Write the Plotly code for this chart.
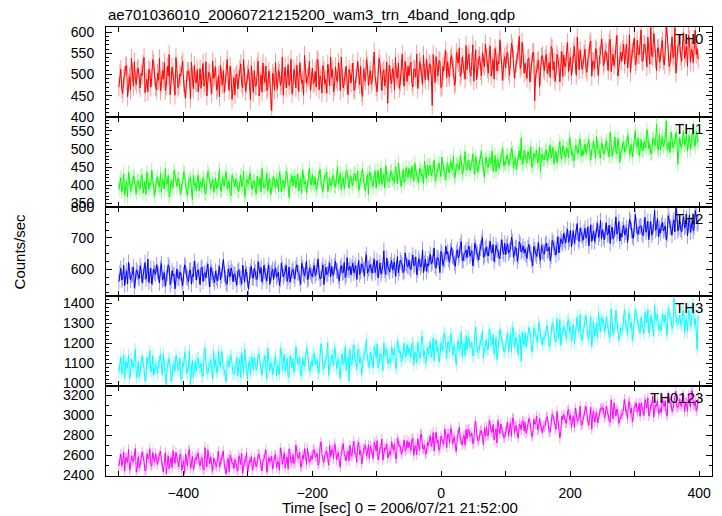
import numpy as np
import plotly.graph_objects as go

TITLE = "ae701036010_20060721215200_wam3_trn_4band_long.qdp"
X_LABEL = "Time [sec] 0 = 2006/07/21 21:52:00"
Y_LABEL = "Counts/sec"
BAND_NAMES = ["TH0", "TH1", "TH2", "TH3", "TH0123"]
BAND_COLORS = ["#ff0000", "#00ff00", "#0000ff", "#00ffff", "#ff00ff"]
ERROR_COLORS = ["rgba(255,0,0,0.4)", "rgba(0,255,0,0.4)", "rgba(0,0,255,0.4)",
                "rgba(0,255,255,0.4)", "rgba(255,0,255,0.4)"]

# time grid of the light curve (seconds from 2006/07/21 21:52:00);
# the *_A lists hold the bins at TIME_START + k*TIME_STEP, the *_B lists the
# bins half a step later.
TIME_START = -500
TIME_STEP = 3

# typical 1-sigma count-rate error of each band (counts/sec)
BAND_ERRORS = [22, 20, 25, 33, 52]

TH0_A = [
    470, 512, 455, 498, 521, 480, 463, 505, 530, 476,
    515, 468, 497, 540, 482, 459, 508, 493, 526, 471,
    503, 538, 477, 489, 462, 519, 547, 485, 498, 451,
    512, 474, 496, 531, 466, 488, 507, 443, 495, 522,
    480, 459, 513, 497, 472, 530, 486, 502, 455, 491,
    518, 470, 447, 493, 509, 481, 536, 462, 498, 475,
    452, 501, 489, 525, 468, 494, 478, 512, 440, 486,
    509, 473, 531, 484, 458, 497, 520, 469, 491, 415,
    495, 528, 466, 503, 482, 451, 517, 490, 474, 536,
    471, 499, 522, 460, 508, 487, 545, 479, 496, 463,
    515, 482, 470, 531, 497, 456, 509, 488, 524, 473,
    494, 459, 518, 483, 506, 541, 468, 497, 476, 512,
    480, 527, 465, 502, 489, 519, 448, 495, 535, 474,
    509, 486, 553, 471, 498, 525, 462, 511, 490, 432,
    522, 478, 505, 540, 491, 467, 514, 496, 531, 483,
    497, 529, 470, 512, 548, 488, 519, 476, 503, 536,
    486, 523, 427, 515, 542, 497, 531, 472, 508, 556,
    530, 494, 545, 512, 481, 538, 563, 503, 524, 489,
    511, 548, 496, 570, 527, 488, 535, 509, 552, 518,
    541, 503, 566, 520, 489, 544, 531, 582, 507, 529,
    515, 553, 498, 574, 536, 512, 547, 590, 521, 548,
    526, 491, 539, 505, 552, 438, 513, 534, 498, 545,
    508, 547, 519, 493, 561, 530, 501, 538, 482, 554,
    546, 518, 575, 530, 497, 552, 526, 588, 511, 539,
    522, 560, 505, 543, 579, 531, 514, 556, 498, 547,
    564, 529, 551, 509, 583, 540, 521, 567, 496, 545,
    531, 572, 548, 515, 594, 537, 560, 522, 581, 546,
    605, 532, 569, 518, 556, 618, 541, 575, 509, 563,
    537, 580, 522, 612, 551, 528, 589, 545, 503, 566,
    574, 531, 598, 550, 519, 583, 560, 527, 604, 561,
]
TH0_B = [
    502, 466, 491, 519, 447, 495, 538, 472, 486, 511,
    478, 503, 524, 457, 489, 512, 470, 535, 494, 463,
    486, 461, 509, 528, 473, 496, 452, 517, 482, 540,
    469, 501, 523, 480, 444, 507, 491, 529, 466, 484,
    511, 494, 467, 526, 481, 449, 505, 473, 532, 497,
    463, 497, 522, 476, 458, 503, 487, 519, 441, 492,
    497, 466, 512, 478, 535, 460, 501, 482, 521, 457,
    472, 518, 449, 499, 527, 481, 462, 508, 437, 503,
    463, 481, 510, 474, 541, 496, 468, 523, 487, 455,
    512, 468, 486, 527, 479, 451, 503, 492, 531, 484,
    478, 507, 536, 464, 489, 521, 477, 456, 503, 541,
    511, 472, 489, 528, 461, 494, 483, 519, 452, 501,
    505, 462, 491, 531, 476, 458, 513, 484, 520, 497,
    477, 522, 494, 459, 538, 485, 506, 473, 529, 501,
    489, 514, 463, 498, 527, 481, 548, 472, 506, 519,
    521, 482, 513, 494, 467, 530, 502, 545, 487, 511,
    525, 498, 547, 481, 506, 533, 469, 519, 538, 492,
    502, 536, 519, 474, 552, 527, 495, 541, 510, 568,
    539, 505, 531, 484, 558, 516, 543, 497, 526, 572,
    514, 549, 496, 535, 561, 508, 525, 553, 486, 542,
    547, 509, 536, 563, 491, 528, 557, 514, 576, 503,
    508, 537, 482, 524, 551, 497, 529, 470, 541, 515,
    537, 502, 528, 566, 511, 484, 547, 519, 533, 495,
    519, 553, 507, 541, 524, 566, 498, 535, 557, 512,
    548, 513, 537, 572, 496, 529, 561, 518, 543, 583,
    521, 556, 532, 574, 507, 548, 535, 592, 518, 553,
    559, 524, 571, 539, 505, 553, 586, 530, 547, 568,
    531, 572, 549, 588, 524, 545, 597, 537, 561, 529,
    566, 533, 557, 594, 519, 551, 540, 611, 530, 572,
    543, 579, 538, 566, 592, 529, 555, 583, 547, 536,
]

TH1_A = [
    388, 421, 395, 372, 410, 436, 384, 401, 419, 377,
    412, 390, 428, 399, 374, 417, 406, 441, 385, 398,
    423, 395, 380, 411, 446, 402, 368, 414, 393, 429,
    397, 418, 375, 405, 432, 388, 409, 421, 360, 401,
    386, 427, 410, 393, 415, 377, 438, 399, 405, 381,
    420, 398, 443, 384, 407, 425, 390, 412, 371, 416,
    395, 412, 382, 428, 401, 369, 417, 404, 433, 389,
    411, 376, 399, 420, 446, 392, 405, 383, 418, 397,
    424, 393, 409, 437, 381, 414, 402, 429, 366, 411,
    398, 426, 412, 385, 418, 441, 403, 379, 420, 407,
    430, 401, 388, 416, 444, 395, 411, 424, 382, 419,
    403, 427, 396, 452, 410, 388, 421, 407, 437, 392,
    425, 399, 433, 412, 386, 420, 446, 405, 418, 374,
    434, 409, 426, 392, 441, 417, 403, 430, 455, 413,
    411, 438, 420, 451, 404, 429, 397, 443, 418, 432,
    447, 419, 436, 462, 425, 408, 441, 430, 466, 417,
    428, 455, 437, 469, 421, 446, 432, 478, 443, 415,
    461, 436, 452, 480, 427, 457, 444, 471, 438, 493,
    442, 468, 451, 487, 430, 463, 449, 476, 458, 421,
    478, 449, 466, 495, 455, 437, 472, 460, 489, 452,
    458, 483, 469, 502, 447, 477, 464, 495, 530, 461,
    489, 462, 481, 506, 455, 476, 497, 469, 438, 485,
    470, 498, 476, 512, 488, 459, 494, 479, 521, 472,
    505, 476, 499, 531, 485, 468, 510, 492, 519, 481,
    483, 514, 497, 526, 470, 502, 488, 535, 499, 475,
    511, 486, 523, 495, 547, 480, 506, 492, 529, 463,
    491, 520, 505, 538, 484, 512, 498, 551, 507, 482,
    527, 495, 514, 553, 501, 486, 530, 509, 569, 497,
    499, 534, 515, 578, 506, 490, 528, 512, 545, 458,
    532, 503, 549, 518, 494, 537, 521, 561, 508, 526,
]
TH1_B = [
    409, 382, 431, 397, 368, 415, 402, 426, 391, 413,
    394, 423, 378, 410, 436, 389, 401, 419, 370, 407,
    401, 433, 416, 389, 404, 427, 381, 398, 441, 412,
    419, 390, 403, 437, 396, 372, 414, 389, 428, 406,
    412, 384, 399, 421, 376, 408, 430, 391, 417, 396,
    391, 414, 386, 421, 398, 437, 402, 380, 428, 399,
    418, 386, 407, 396, 440, 377, 409, 425, 392, 413,
    389, 425, 402, 381, 413, 397, 434, 411, 374, 406,
    402, 417, 383, 421, 405, 391, 438, 397, 414, 427,
    419, 393, 431, 404, 378, 422, 410, 396, 446, 401,
    405, 423, 397, 431, 409, 382, 427, 436, 403, 398,
    422, 398, 419, 405, 434, 416, 390, 441, 411, 426,
    406, 431, 412, 440, 398, 424, 409, 385, 429, 437,
    412, 397, 439, 421, 405, 448, 416, 392, 427, 411,
    437, 415, 406, 431, 462, 414, 426, 408, 449, 421,
    424, 452, 411, 438, 420, 447, 426, 405, 441, 456,
    453, 426, 448, 412, 439, 461, 424, 452, 431, 447,
    437, 466, 443, 421, 458, 449, 481, 430, 462, 445,
    469, 440, 463, 452, 478, 436, 461, 494, 447, 470,
    451, 476, 459, 439, 482, 468, 446, 473, 501, 464,
    481, 455, 476, 491, 462, 443, 487, 472, 458, 496,
    468, 493, 472, 449, 488, 479, 461, 505, 483, 470,
    493, 467, 489, 475, 504, 486, 463, 497, 481, 509,
    481, 502, 476, 515, 493, 469, 506, 487, 528, 495,
    507, 488, 513, 482, 499, 522, 476, 504, 493, 517,
    489, 514, 501, 478, 519, 496, 533, 487, 508, 492,
    517, 492, 509, 527, 496, 478, 521, 505, 531, 499,
    498, 521, 503, 537, 512, 490, 526, 519, 502, 541,
    525, 506, 531, 497, 519, 547, 503, 522, 534, 510,
    507, 529, 512, 540, 521, 499, 533, 515, 550, 518,
]

TH2_A = [
    560, 603, 571, 548, 595, 622, 566, 584, 541, 598,
    575, 611, 557, 590, 568, 632, 579, 552, 601, 583,
    592, 556, 618, 570, 545, 587, 606, 563, 579, 537,
    601, 569, 588, 547, 614, 576, 559, 597, 583, 626,
    565, 598, 551, 607, 584, 572, 616, 543, 590, 568,
    594, 562, 609, 579, 631, 571, 552, 588, 604, 560,
    583, 549, 598, 570, 612, 558, 585, 536, 593, 574,
    603, 571, 624, 586, 559, 612, 578, 597, 551, 589,
    567, 604, 583, 548, 619, 575, 593, 561, 607, 580,
    599, 568, 614, 587, 552, 603, 579, 626, 570, 591,
    576, 612, 588, 633, 569, 597, 551, 606, 585, 620,
    608, 580, 625, 594, 562, 611, 589, 573, 637, 598,
    582, 619, 601, 567, 628, 593, 611, 578, 646, 600,
    615, 587, 632, 604, 572, 620, 596, 659, 583, 609,
    592, 628, 610, 577, 640, 603, 621, 589, 652, 611,
    628, 598, 645, 615, 582, 634, 607, 662, 619, 593,
    611, 647, 622, 668, 603, 636, 589, 651, 628, 673,
    656, 622, 671, 638, 609, 662, 645, 688, 627, 652,
    637, 674, 648, 611, 683, 656, 629, 667, 701, 643,
    671, 642, 689, 653, 624, 677, 660, 633, 694, 648,
    646, 681, 659, 702, 638, 670, 625, 688, 655, 674,
    665, 634, 679, 648, 611, 662, 641, 685, 628, 657,
    648, 683, 659, 627, 692, 670, 645, 704, 678, 688,
    715, 684, 728, 697, 671, 722, 703, 746, 689, 711,
    692, 731, 708, 674, 742, 715, 688, 727, 701, 756,
    726, 694, 748, 713, 682, 735, 705, 767, 721, 690,
    702, 741, 718, 685, 759, 724, 698, 776, 713, 734,
    738, 707, 766, 729, 694, 752, 719, 788, 731, 703,
    715, 749, 727, 694, 771, 736, 709, 758, 795, 722,
    752, 719, 768, 738, 706, 774, 741, 722, 787, 745,
]
TH2_B = [
    588, 565, 612, 577, 553, 594, 581, 607, 562, 590,
    569, 596, 578, 621, 585, 558, 603, 574, 589, 614,
    583, 603, 566, 589, 573, 614, 551, 595, 584, 567,
    574, 591, 562, 583, 608, 571, 596, 552, 577, 601,
    592, 576, 603, 561, 589, 598, 573, 606, 580, 557,
    572, 589, 566, 598, 583, 556, 601, 575, 592, 585,
    569, 593, 577, 552, 588, 601, 566, 582, 609, 571,
    591, 567, 598, 605, 575, 591, 562, 613, 582, 600,
    596, 574, 590, 567, 601, 584, 612, 575, 559, 594,
    578, 603, 590, 571, 619, 584, 597, 566, 605, 582,
    597, 579, 606, 588, 571, 614, 592, 583, 601, 575,
    585, 611, 596, 577, 603, 589, 622, 581, 597, 610,
    604, 588, 612, 595, 583, 617, 598, 631, 587, 605,
    593, 612, 589, 627, 605, 584, 611, 597, 635, 602,
    614, 597, 623, 601, 588, 629, 613, 595, 619, 608,
    605, 626, 610, 639, 598, 621, 614, 589, 632, 617,
    633, 616, 641, 609, 637, 625, 657, 612, 631, 648,
    631, 658, 642, 619, 653, 636, 675, 628, 649, 661,
    662, 641, 659, 633, 670, 647, 655, 686, 638, 664,
    648, 667, 652, 679, 644, 662, 639, 671, 657, 683,
    672, 651, 664, 688, 649, 667, 642, 679, 661, 653,
    646, 668, 655, 631, 673, 649, 662, 640, 676, 654,
    679, 658, 671, 642, 684, 663, 676, 652, 697, 681,
    692, 709, 686, 724, 701, 683, 718, 695, 731, 706,
    718, 699, 736, 711, 689, 722, 704, 747, 713, 696,
    703, 723, 709, 741, 718, 697, 729, 712, 752, 715,
    727, 709, 732, 718, 751, 706, 729, 741, 712, 737,
    715, 734, 718, 753, 727, 709, 742, 724, 763, 730,
    741, 722, 738, 712, 756, 731, 747, 719, 775, 733,
    727, 749, 732, 763, 741, 718, 755, 736, 771, 748,
]

TH3_A = [
    1053, 1131, 1070, 1023, 1102, 1141, 1049, 1082, 1117, 1030,
    1109, 1058, 1138, 1076, 1022, 1099, 1163, 1065, 1040, 1092,
    1046, 1107, 1070, 1147, 1034, 1087, 1125, 1011, 1095, 1062,
    1119, 1066, 1031, 1101, 1153, 1053, 1090, 993, 1113, 1074,
    1057, 1125, 1079, 1034, 1143, 1096, 1047, 1108, 1071, 1163,
    1119, 1053, 1099, 1158, 1066, 1036, 1110, 1082, 1140, 1049,
    1066, 1131, 1086, 1028, 1107, 1171, 1075, 1097, 1044, 1121,
    1128, 1068, 1147, 1088, 1039, 1112, 1079, 1176, 1060, 1099,
    1075, 1136, 1091, 1043, 1157, 1106, 1060, 1123, 1029, 1113,
    1123, 1071, 1148, 1094, 1046, 1129, 1083, 1178, 1102, 1064,
    1083, 1150, 1101, 1053, 1134, 1168, 1074, 1116, 1203, 1092,
    1137, 1087, 1158, 1106, 1055, 1129, 1094, 1182, 1119, 1011,
    1099, 1159, 1114, 1068, 1172, 1130, 1089, 1147, 1221, 1109,
    1157, 1107, 1182, 1128, 1077, 1150, 1117, 1203, 1138, 1098,
    1121, 1183, 1139, 1090, 1212, 1152, 1109, 1172, 1134, 1194,
    1177, 1128, 1203, 1151, 1102, 1173, 1138, 1231, 1159, 1113,
    1144, 1204, 1160, 1113, 1217, 1178, 1134, 1195, 1242, 1155,
    1204, 1156, 1229, 1177, 1127, 1198, 1165, 1258, 1186, 1138,
    1168, 1229, 1184, 1137, 1245, 1200, 1152, 1212, 1261, 1177,
    1219, 1171, 1246, 1194, 1145, 1230, 1183, 1271, 1206, 1162,
    1193, 1253, 1205, 1159, 1265, 1230, 1180, 1242, 1110, 1211,
    1254, 1203, 1280, 1227, 1178, 1265, 1215, 1304, 1238, 1194,
    1223, 1284, 1239, 1192, 1302, 1255, 1207, 1274, 1319, 1234,
    1284, 1236, 1309, 1257, 1207, 1294, 1245, 1334, 1267, 1219,
    1250, 1313, 1266, 1219, 1332, 1282, 1234, 1300, 1355, 1259,
    1306, 1257, 1332, 1279, 1229, 1316, 1267, 1366, 1289, 1240,
    1271, 1333, 1289, 1242, 1352, 1303, 1254, 1372, 1315, 1278,
    1330, 1278, 1355, 1301, 1253, 1339, 1290, 1389, 1315, 1269,
    1290, 1348, 1306, 1259, 1375, 1322, 1274, 1425, 1333, 1297,
    1340, 1290, 1365, 1309, 1260, 1353, 1302, 1398, 1322, 1168,
]
TH3_B = [
    1097, 1048, 1143, 1106, 1077, 1024, 1120, 1083, 1169, 1042,
    1033, 1088, 1111, 1010, 1127, 1097, 1056, 1137, 1071, 1084,
    1107, 1146, 1041, 1089, 992, 1113, 1075, 1033, 1099, 1138,
    1068, 1126, 1021, 1087, 1134, 1054, 1163, 1064, 1029, 1108,
    1124, 1076, 1100, 1035, 1179, 1051, 1091, 1117, 1020, 1079,
    1059, 1161, 1085, 1133, 1069, 1008, 1112, 1136, 1082, 1046,
    1091, 1034, 1123, 1154, 1052, 1101, 1020, 1107, 1131, 1067,
    1094, 1081, 1147, 1066, 1107, 1137, 1020, 1121, 1098, 1043,
    1119, 1040, 1075, 1174, 1065, 1145, 1098, 1032, 1137, 1079,
    1055, 1182, 1096, 1133, 1037, 1090, 1119, 1156, 1061, 1110,
    1143, 1095, 1119, 1054, 1198, 1070, 1110, 1136, 1039, 1098,
    1139, 1178, 1073, 1121, 1024, 1145, 1107, 1065, 1131, 1170,
    1091, 1193, 1117, 1165, 1101, 1040, 1144, 1168, 1114, 1078,
    1133, 1076, 1165, 1196, 1094, 1143, 1062, 1149, 1173, 1109,
    1096, 1151, 1174, 1073, 1190, 1160, 1119, 1200, 1134, 1147,
    1139, 1197, 1092, 1158, 1205, 1125, 1234, 1135, 1100, 1179,
    1180, 1131, 1226, 1189, 1160, 1107, 1203, 1166, 1252, 1125,
    1207, 1246, 1141, 1189, 1092, 1213, 1175, 1133, 1199, 1238,
    1228, 1180, 1204, 1139, 1283, 1155, 1195, 1221, 1124, 1183,
    1169, 1271, 1195, 1243, 1179, 1118, 1222, 1246, 1192, 1156,
    1216, 1159, 1248, 1279, 1177, 1226, 1145, 1232, 1256, 1192,
    1181, 1236, 1259, 1158, 1275, 1245, 1204, 1285, 1219, 1232,
    1229, 1287, 1182, 1248, 1295, 1215, 1324, 1225, 1190, 1269,
    1272, 1223, 1318, 1281, 1252, 1199, 1295, 1258, 1344, 1217,
    1299, 1338, 1233, 1281, 1184, 1305, 1267, 1225, 1291, 1330,
    1320, 1272, 1296, 1231, 1375, 1247, 1287, 1313, 1216, 1275,
    1266, 1368, 1292, 1340, 1276, 1215, 1319, 1343, 1289, 1253,
    1306, 1249, 1338, 1369, 1267, 1316, 1235, 1322, 1346, 1282,
    1263, 1318, 1341, 1240, 1357, 1327, 1286, 1367, 1301, 1314,
    1299, 1357, 1252, 1318, 1365, 1285, 1394, 1295, 1260, 1339,
]

TH0123_A = [
    2488, 2612, 2526, 2438, 2570, 2658, 2477, 2544, 2595, 2429,
    2584, 2495, 2632, 2536, 2452, 2565, 2663, 2488, 2553, 2615,
    2506, 2597, 2533, 2430, 2624, 2556, 2462, 2576, 2645, 2515,
    2575, 2483, 2610, 2524, 2418, 2552, 2638, 2469, 2588, 2505,
    2556, 2622, 2491, 2575, 2448, 2539, 2653, 2514, 2466, 2568,
    2504, 2592, 2478, 2555, 2638, 2461, 2531, 2432, 2574, 2521,
    2553, 2470, 2592, 2504, 2417, 2546, 2624, 2483, 2529, 2452,
    2572, 2484, 2606, 2516, 2440, 2555, 2653, 2493, 2539, 2588,
    2518, 2603, 2536, 2449, 2628, 2561, 2470, 2580, 2661, 2522,
    2606, 2525, 2639, 2563, 2479, 2596, 2666, 2505, 2584, 2548,
    2559, 2653, 2586, 2498, 2680, 2604, 2525, 2628, 2565, 2697,
    2649, 2564, 2676, 2598, 2518, 2636, 2715, 2585, 2622, 2543,
    2599, 2687, 2616, 2528, 2730, 2645, 2560, 2663, 2593, 2703,
    2689, 2600, 2726, 2640, 2554, 2677, 2761, 2619, 2657, 2572,
    2634, 2734, 2654, 2571, 2767, 2687, 2607, 2701, 2643, 2744,
    2732, 2647, 2768, 2681, 2603, 2712, 2807, 2665, 2700, 2623,
    2696, 2792, 2725, 2639, 2829, 2748, 2671, 2766, 2708, 2804,
    2809, 2722, 2848, 2760, 2679, 2792, 2879, 2742, 2776, 2698,
    2764, 2858, 2790, 2712, 2893, 2816, 2737, 2839, 2776, 2872,
    2880, 2794, 2907, 2828, 2752, 2864, 2948, 2815, 2853, 2774,
    2839, 2932, 2865, 2788, 2963, 2891, 2812, 2911, 2853, 2944,
    2929, 2848, 2966, 2880, 2799, 2911, 2992, 2862, 2900, 2824,
    2886, 2977, 2908, 2832, 3008, 2936, 2857, 2956, 2770, 2990,
    3004, 2923, 3038, 2955, 2877, 2987, 3070, 2941, 2975, 2899,
    2954, 3047, 2980, 2903, 3078, 3006, 2929, 3027, 2969, 3062,
    3054, 2975, 3091, 3006, 2928, 3039, 3123, 2991, 3028, 2949,
    3014, 3107, 3040, 2962, 3138, 3066, 2987, 3086, 3028, 3120,
    3119, 3040, 3156, 3071, 2993, 3104, 3188, 3056, 3093, 3016,
    3064, 3157, 3090, 3012, 3190, 3116, 3037, 3137, 3239, 3076,
    3164, 3085, 3203, 3116, 3038, 3149, 3242, 3106, 3141, 3065,
]
TH0123_B = [
    2558, 2493, 2632, 2571, 2528, 2452, 2594, 2537, 2666, 2479,
    2474, 2554, 2589, 2440, 2612, 2567, 2507, 2626, 2529, 2548,
    2581, 2639, 2484, 2556, 2411, 2590, 2535, 2473, 2570, 2627,
    2514, 2600, 2445, 2543, 2611, 2494, 2655, 2509, 2456, 2574,
    2592, 2520, 2556, 2461, 2674, 2483, 2543, 2581, 2438, 2524,
    2485, 2636, 2524, 2594, 2500, 2409, 2563, 2599, 2519, 2465,
    2524, 2439, 2571, 2616, 2466, 2539, 2420, 2547, 2583, 2488,
    2533, 2514, 2611, 2492, 2552, 2597, 2425, 2574, 2539, 2459,
    2588, 2470, 2523, 2669, 2508, 2625, 2557, 2459, 2614, 2528,
    2514, 2701, 2572, 2629, 2487, 2563, 2606, 2667, 2528, 2593,
    2652, 2580, 2616, 2521, 2734, 2543, 2603, 2641, 2498, 2584,
    2651, 2709, 2554, 2626, 2481, 2660, 2605, 2543, 2640, 2697,
    2587, 2738, 2626, 2696, 2602, 2511, 2665, 2701, 2621, 2567,
    2652, 2567, 2699, 2744, 2594, 2667, 2548, 2675, 2711, 2616,
    2597, 2677, 2712, 2563, 2735, 2690, 2630, 2749, 2652, 2671,
    2666, 2752, 2597, 2695, 2763, 2646, 2807, 2661, 2608, 2726,
    2753, 2688, 2827, 2766, 2723, 2647, 2789, 2732, 2861, 2674,
    2809, 2867, 2712, 2784, 2639, 2818, 2763, 2701, 2798, 2855,
    2857, 2785, 2821, 2726, 2939, 2748, 2808, 2846, 2703, 2789,
    2797, 2948, 2836, 2906, 2812, 2721, 2875, 2911, 2831, 2777,
    2877, 2792, 2924, 2969, 2819, 2892, 2773, 2900, 2936, 2841,
    2819, 2899, 2934, 2785, 2957, 2912, 2852, 2971, 2874, 2893,
    2896, 2982, 2827, 2925, 2993, 2876, 3037, 2891, 2838, 2956,
    2983, 2918, 3057, 2996, 2953, 2877, 3019, 2962, 3091, 2904,
    3029, 3087, 2932, 3004, 2859, 3038, 2983, 2921, 3018, 3075,
    3072, 3000, 3036, 2941, 3154, 2963, 3023, 3061, 2918, 3004,
    3007, 3158, 3046, 3116, 3022, 2931, 3085, 3121, 3041, 2987,
    3082, 2997, 3129, 3174, 3024, 3097, 2978, 3105, 3141, 3046,
    3029, 3109, 3144, 2995, 3167, 3122, 3062, 3181, 3084, 3103,
    3101, 3187, 3032, 3130, 3198, 3081, 3242, 3096, 3043, 3161,
]

SERIES_A = [TH0_A, TH1_A, TH2_A, TH3_A, TH0123_A]
SERIES_B = [TH0_B, TH1_B, TH2_B, TH3_B, TH0123_B]

# axis settings per panel: range, major step, minor step
Y_RANGES = [[400, 612], [341, 589], [513, 800], [985, 1435], [2390, 3290]]
Y_MAJOR = [50, 50, 100, 100, 200]
Y_MINOR = [10, 10, 25, 20, 100]
X_RANGE = [-520, 420]

FONT = "Liberation Sans, Arial, Helvetica, sans-serif"

W, H = 722, 516
ML, MR, MT, MB = 106, 10, 27, 40

fig = go.Figure()
n = len(SERIES_A)
for i in range(n):
    a, b = SERIES_A[i], SERIES_B[i]
    vals = []
    times = []
    for k in range(len(a)):
        t0 = TIME_START + TIME_STEP * k
        times += [t0, t0 + TIME_STEP / 2]
        vals += [a[k], b[k]]
    sfx = "" if i == 0 else str(i + 1)
    fig.add_trace(go.Scatter(
        x=times, y=vals, mode="lines",
        line=dict(color=BAND_COLORS[i], width=1),
        error_y=dict(type="constant", value=BAND_ERRORS[i], color=ERROR_COLORS[i],
                     thickness=1, width=0),
        xaxis="x" + sfx, yaxis="y" + sfx,
        showlegend=False, hoverinfo="skip",
    ))

layout = dict(
    width=W, height=H,
    margin=dict(l=ML, r=MR, t=MT, b=MB, autoexpand=False),
    paper_bgcolor="white", plot_bgcolor="white",
    font=dict(family=FONT, size=14, color="black"),
    showlegend=False,
)

for i in range(n):
    sfx = "" if i == 0 else str(i + 1)
    top = 1 - i / n
    bot = 1 - (i + 1) / n
    last = (i == n - 1)
    layout["xaxis" + sfx] = dict(
        domain=[0, 1], anchor="y" + sfx,
        range=X_RANGE, matches=None if i == 0 else "x",
        tick0=0, dtick=200, ticks="inside", ticklen=5, tickwidth=1,
        tickcolor="black",
        minor=dict(dtick=100, ticks="inside", ticklen=5, tickwidth=1,
                   tickcolor="black", showgrid=False),
        showline=True, linecolor="black", linewidth=1, mirror="ticks",
        showgrid=False, zeroline=False,
        showticklabels=last, ticklabelstandoff=4,
        tickfont=dict(size=14, family=FONT),
    )
    layout["yaxis" + sfx] = dict(
        domain=[bot, top], anchor="x" + sfx,
        range=Y_RANGES[i], tick0=0, dtick=Y_MAJOR[i],
        ticks="inside", ticklen=6, tickwidth=1, tickcolor="black",
        minor=dict(dtick=Y_MINOR[i], ticks="inside", ticklen=3, tickwidth=1,
                   tickcolor="black", showgrid=False),
        showline=True, linecolor="black", linewidth=1, mirror="ticks",
        showgrid=False, zeroline=False,
        ticklabelstandoff=8,
        tickfont=dict(size=14, family=FONT),
    )

annotations = []
for i, name in enumerate(BAND_NAMES):
    sfx = "" if i == 0 else str(i + 1)
    annotations.append(dict(
        text=name, xref="paper", x=0.988, xanchor="right",
        yref="y" + sfx + " domain", y=1, yanchor="top", yshift=-1,
        showarrow=False, font=dict(size=15, family=FONT, color="black"),
    ))
annotations.append(dict(
    text=Y_LABEL, xref="paper", x=-0.142, xanchor="center",
    yref="paper", y=0.5, yanchor="middle", textangle=-90,
    showarrow=False, font=dict(size=15, family=FONT, color="black"),
))
annotations.append(dict(
    text=X_LABEL, xref="paper", x=0.485, xanchor="center",
    yref="paper", y=-0.071, yanchor="middle",
    showarrow=False, font=dict(size=15, family=FONT, color="black"),
))
annotations.append(dict(
    text=TITLE, xref="paper", x=0.0, xanchor="left",
    yref="paper", y=1, yanchor="bottom", yshift=2,
    showarrow=False, font=dict(size=15, family=FONT, color="black"),
))
layout["annotations"] = annotations

fig.update_layout(**layout)
fig.write_html(
    "out.html",
    config={"displayModeBar": False},
    post_script="document.body.style.margin='0px';document.body.style.overflow='hidden';",
)
